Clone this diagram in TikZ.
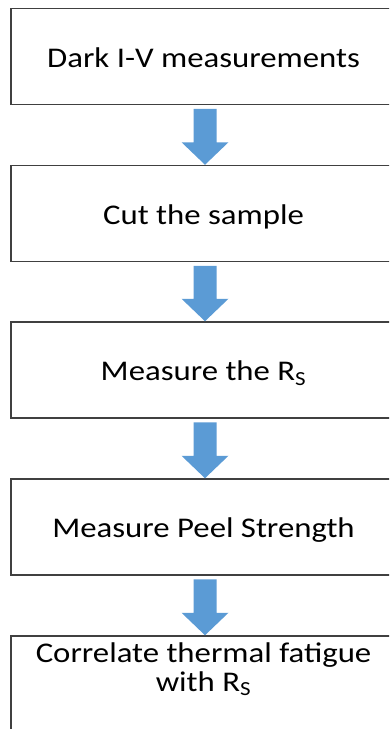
\documentclass[tikz,border=0pt]{standalone}
\usepackage{fontspec}
\setmainfont{Carlito}[FakeStretch=1.15]
\usetikzlibrary{calc}
\definecolor{boxline}{HTML}{404040}
\definecolor{flowblue}{HTML}{5B9BD5}
\tikzset{
  stepbox/.style={draw=boxline, line width=1.5pt, fill=white,
    minimum width=440pt, minimum height=96pt, inner sep=0pt},
  steplabel/.style={inner sep=0pt, text height=21.4pt, text depth=0pt,
    font=\fontsize{28.5}{33}\selectfont},
  steptext/.style={inner sep=0pt, align=center,
    font=\fontsize{28.5}{29}\selectfont},
  flowfill/.style={fill=flowblue, draw=none}
}
% block arrow from the bottom of one box to the top of the next
\newcommand\flowarrow[2]{%
  \path let \p1=(#1.south), \p2=(#2.north) in
    [flowfill] ({205pt-11.5pt},{\y1-3.5pt}) -- ({205pt+11.5pt},{\y1-3.5pt})
    -- ({205pt+11.5pt},{\y2+22.5pt}) -- ({205pt+23.5pt},{\y2+22.5pt})
    -- ({205pt},{\y2}) -- ({205pt-23.5pt},{\y2+22.5pt})
    -- ({205pt-11.5pt},{\y2+22.5pt}) -- cycle;}
\newcommand\rsub{R\textsubscript{S}}
\begin{document}
\begin{tikzpicture}[x=1pt,y=-1pt]
\useasboundingbox (0,0) rectangle (389,729);
\clip (0,0) rectangle (389,729);
\fill[white] (0,0) rectangle (389,729);
% the boxes run past the right edge of the sheet
\node[stepbox, anchor=west] (b1) at (10,56.5) {};
\node[stepbox, anchor=west] (b2) at (10,213.5) {};
\node[stepbox, anchor=west] (b3) at (10,370) {};
\node[stepbox, anchor=west] (b4) at (10,527) {};
\node[stepbox, anchor=west] (b5) at (10,684) {};
\node[steplabel] (t1) at (203.5,56.5) {Dark I-V measurements};
\node[steplabel] (t2) at (203.5,213.5) {Cut the sample};
\node[steplabel] (t3) at (203.5,370) {Measure the \rsub};
\node[steplabel] (t4) at (203.5,527) {Measure Peel Strength};
\node[steptext] (t5) at (203.5,669) {Correlate thermal fatigue\\with \rsub};
\flowarrow{b1}{b2}
\flowarrow{b2}{b3}
\flowarrow{b3}{b4}
\flowarrow{b4}{b5}
\end{tikzpicture}
\end{document}
